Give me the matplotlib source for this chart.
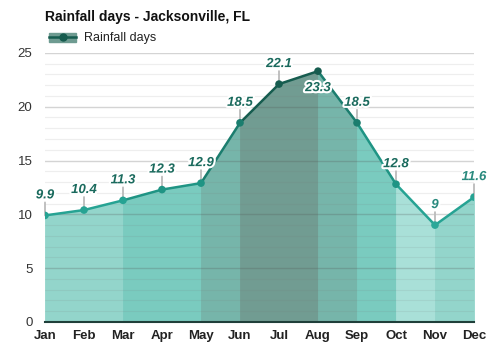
import matplotlib
matplotlib.use("Agg")
import matplotlib.pyplot as plt
import matplotlib.patheffects as pe
from matplotlib.lines import Line2D
from matplotlib.patches import Patch

plt.rcParams["font.family"] = ["Liberation Sans", "DejaVu Sans"]

months = ["Jan", "Feb", "Mar", "Apr", "May", "Jun", "Jul", "Aug", "Sep", "Oct", "Nov", "Dec"]
rain_days = [9.9, 10.4, 11.3, 12.3, 12.9, 18.5, 22.1, 23.3, 18.5, 12.8, 9, 11.6]

# shade per interval (Jan-Feb ... Nov-Dec)
fill_cols = ["#93d5cb", "#93d5cb", "#7acbbf", "#7acbbf", "#76b5aa", "#719c92",
             "#719c92", "#76b5aa", "#7acbbf", "#a9e0d8", "#93d5cb"]
line_cols = ["#26a393", "#26a393", "#1f9484", "#1f9484", "#1b7d6e", "#165c4f",
             "#165c4f", "#1b7d6e", "#1f9484", "#26a393", "#26a393"]
point_cols = ["#26a393", "#26a393", "#26a393", "#1f9484", "#1f9484", "#1b7d6e",
              "#165c4f", "#165c4f", "#1b7d6e", "#1f9484", "#2ba899", "#26a393"]

fig = plt.figure(figsize=(5, 3.5), dpi=100)
ax = fig.add_axes([0.09, 0.08, 0.858, 0.769])

x = list(range(len(months)))
for i in range(len(months) - 1):
    ax.fill_between([i, i + 1], [rain_days[i], rain_days[i + 1]], 0,
                    facecolor=fill_cols[i], edgecolor=fill_cols[i], lw=0.6, zorder=1)
    ax.plot([i, i + 1], [rain_days[i], rain_days[i + 1]], color=line_cols[i],
            lw=1.8, zorder=3, solid_capstyle="round")
ax.scatter(x, rain_days, s=30, c=point_cols, zorder=4, edgecolors="none")

for i, v in enumerate(rain_days):
    lbl = f"{v:g}"
    if i == 7:
        ax.annotate(lbl, (i, v), xytext=(0, -17), textcoords="offset pixels",
                    ha="center", va="center", fontsize=9.5, fontweight="bold",
                    fontstyle="italic", color="#1a6a5d", zorder=6,
                    path_effects=[pe.withStroke(linewidth=3, foreground="white")])
        continue
    col = "#2a8a7e" if i in (10, 11) else "#1a6a5d"
    # short gray stem from point to label
    ax.annotate("", (i, v), xytext=(0, 13), textcoords="offset pixels",
                arrowprops=dict(arrowstyle="-", color="#bbbbbb", lw=1.3,
                                shrinkA=0, shrinkB=0), zorder=2.5)
    ax.annotate(lbl, (i, v), xytext=(0, 20), textcoords="offset pixels",
                ha="center", va="center", fontsize=9.5, fontweight="bold",
                fontstyle="italic", color=col, zorder=6,
                path_effects=[pe.withStroke(linewidth=3, foreground="white")])

ax.set_xlim(0, 11)
ax.set_ylim(0, 25)
ax.set_yticks([0, 5, 10, 15, 20, 25])
ax.set_yticks(range(0, 26), minor=True)
ax.set_xticks(x)
ax.set_xticklabels(months, fontweight="bold", fontsize=9.5, color="#222222")
ax.tick_params(axis="y", labelsize=9.5, labelcolor="#333333", length=0, pad=9, which="both")
ax.tick_params(axis="x", length=0, pad=6)
ax.set_axisbelow("line")
ax.grid(axis="y", which="major", color="#555555", alpha=0.25, lw=1)
ax.grid(axis="y", which="minor", color="#777777", alpha=0.12, lw=0.8)
ax.grid(axis="x", visible=False)
for s in ["top", "right", "left"]:
    ax.spines[s].set_visible(False)
ax.spines["bottom"].set_color("#1f3f3a")
ax.spines["bottom"].set_linewidth(1.5)
ax.spines["bottom"].set_zorder(5)

fig.text(0.09, 0.95, "Rainfall days - Jacksonville, FL", fontsize=10,
         fontweight="bold", color="#111111", va="center")
handle = (Patch(color="#6e9b91"),
          Line2D([], [], color="#165c4f", lw=1.8, marker="o", markersize=5))
fig.legend([handle], ["Rainfall days"], loc="center left",
           bbox_to_anchor=(0.075, 0.89), frameon=False, fontsize=9,
           handlelength=2.2, handleheight=0.7, handletextpad=0.6,
           labelcolor="#222222")

fig.savefig("out.png", dpi=100)
